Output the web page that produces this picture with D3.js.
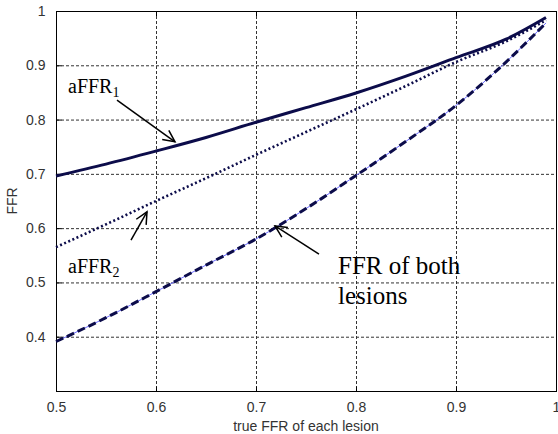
<!DOCTYPE html>
<html>
<head>
<meta charset="utf-8">
<script src="https://cdn.jsdelivr.net/npm/d3@7"></script>
<style>
  body { margin: 0; background: #fff; }
  svg { display: block; }
</style>
</head>
<body>
<div id="chart"></div>
<script>
// true FFR of each lesion
const xs = [0.5, 0.55, 0.6, 0.65, 0.7, 0.75, 0.8, 0.85, 0.9, 0.95, 0.99];
// apparent FFR of lesion 1 (solid)
const affr1 = [0.696, 0.718, 0.742, 0.767, 0.795, 0.822, 0.849, 0.880, 0.914, 0.948, 0.988];
// apparent FFR of lesion 2 (dotted)
const affr2 = [0.565, 0.607, 0.650, 0.692, 0.735, 0.777, 0.819, 0.862, 0.906, 0.944, 0.983];
// FFR of both lesions (dashed)
const ffrBoth = [0.391, 0.435, 0.483, 0.532, 0.580, 0.636, 0.697, 0.760, 0.826, 0.906, 0.978];

const xTicks = [0.5, 0.6, 0.7, 0.8, 0.9, 1];
const yTicks = [0.4, 0.5, 0.6, 0.7, 0.8, 0.9, 1];

const width = 558, height = 434;
const margin = { top: 11, right: 2, bottom: 43, left: 56 };

const x = d3.scaleLinear().domain([0.5, 1]).range([margin.left, width - margin.right]);
const y = d3.scaleLinear().domain([0.3, 1]).range([height - margin.bottom, margin.top]);

const svg = d3.select('#chart').append('svg')
    .attr('width', width)
    .attr('height', height);

const navy = '#0c0c4a';
const tickFont = '"Liberation Sans", Arial, sans-serif';
const serif = '"Liberation Serif", "Times New Roman", serif';

// grid
const grid = svg.append('g')
    .attr('stroke', '#333')
    .attr('stroke-width', 1)
    .attr('stroke-dasharray', '3,2');
grid.selectAll('.gx')
    .data(xTicks.slice(1, -1))
    .join('line')
    .attr('x1', d => x(d) + 0.5).attr('x2', d => x(d) + 0.5)
    .attr('y1', y(1)).attr('y2', y(0.3));
grid.selectAll('.gy')
    .data(yTicks.slice(0, -1))
    .join('line')
    .attr('y1', d => y(d) + 0.5).attr('y2', d => y(d) + 0.5)
    .attr('x1', x(0.5)).attr('x2', x(1));

// axes (ticks pointing inward, like matlab)
const xAxis = g => g
    .attr('transform', `translate(0,${y(0.3) + 0.5})`)
    .call(d3.axisBottom(x).tickValues(xTicks).tickFormat(d3.format('')).tickSizeInner(-5).tickSizeOuter(0).tickPadding(11))
    .call(g => g.select('.domain').remove());

const yAxis = g => g
    .attr('transform', `translate(${x(0.5) + 0.5},0)`)
    .call(d3.axisLeft(y).tickValues(yTicks).tickFormat(d3.format('')).tickSizeInner(-5).tickSizeOuter(0).tickPadding(11))
    .call(g => g.select('.domain').remove());

[xAxis, yAxis].forEach(ax => {
    svg.append('g')
        .call(ax)
        .call(g => g.selectAll('text')
            .attr('font-family', tickFont)
            .attr('font-size', 14)
            .attr('fill', '#333'))
        .call(g => g.selectAll('line').attr('stroke', '#000'));
});

// top ticks
svg.append('g')
    .selectAll('line')
    .data(xTicks)
    .join('line')
    .attr('x1', d => x(d) + 0.5).attr('x2', d => x(d) + 0.5)
    .attr('y1', y(1)).attr('y2', y(1) + 5)
    .attr('stroke', '#000');

// frame
svg.append('rect')
    .attr('x', x(0.5) + 0.5)
    .attr('y', y(1) + 0.5)
    .attr('width', x(1) - x(0.5))
    .attr('height', y(0.3) - y(1))
    .attr('fill', 'none')
    .attr('stroke', '#000');

// axis labels
svg.append('text')
    .attr('x', (x(0.5) + x(1)) / 2)
    .attr('y', height - 3)
    .attr('text-anchor', 'middle')
    .attr('font-family', tickFont)
    .attr('font-size', 14)
    .attr('fill', '#333')
    .text('true FFR of each lesion');

svg.append('text')
    .attr('transform', `translate(17,${(y(0.3) + y(1)) / 2}) rotate(-90)`)
    .attr('text-anchor', 'middle')
    .attr('font-family', tickFont)
    .attr('font-size', 14)
    .attr('fill', '#333')
    .text('FFR');

// curves
const line = series => d3.line()
    .x((d, i) => x(xs[i]))
    .y(d => y(d))
    .curve(d3.curveMonotoneX)(series);

svg.append('path')
    .attr('d', line(affr1))
    .attr('fill', 'none')
    .attr('stroke', navy)
    .attr('stroke-width', 3);

svg.append('path')
    .attr('d', line(affr2))
    .attr('fill', 'none')
    .attr('stroke', navy)
    .attr('stroke-width', 2.6)
    .attr('stroke-dasharray', '2,2.5');

svg.append('path')
    .attr('d', line(ffrBoth))
    .attr('fill', 'none')
    .attr('stroke', '#6a6aff')
    .attr('stroke-width', 1);

svg.append('path')
    .attr('d', line(ffrBoth))
    .attr('fill', 'none')
    .attr('stroke', navy)
    .attr('stroke-width', 3)
    .attr('stroke-dasharray', '8,4');

// annotations, positions in data units
const arrows = [
    { from: [0.561, 0.836], to: [0.619, 0.759] },
    { from: [0.575, 0.578], to: [0.591, 0.630] },
    { from: [0.763, 0.552], to: [0.719, 0.604] }
];

const ann = svg.append('g')
    .attr('stroke', '#000')
    .attr('stroke-width', 1.5)
    .attr('fill', 'none');

arrows.forEach(a => {
    const x1 = x(a.from[0]), y1 = y(a.from[1]);
    const x2 = x(a.to[0]), y2 = y(a.to[1]);
    const ang = Math.atan2(y2 - y1, x2 - x1);
    const len = 13, spread = 0.45;
    ann.append('line')
        .attr('x1', x1).attr('y1', y1)
        .attr('x2', x2).attr('y2', y2);
    ann.append('path')
        .attr('d', d3.line()([
            [x2 - len * Math.cos(ang - spread), y2 - len * Math.sin(ang - spread)],
            [x2, y2],
            [x2 - len * Math.cos(ang + spread), y2 - len * Math.sin(ang + spread)]
        ]));
});

const label = (pos, main, sub) => {
    const t = svg.append('text')
        .attr('x', x(pos[0]))
        .attr('y', y(pos[1]))
        .attr('font-family', serif)
        .attr('font-size', 20)
        .attr('fill', '#000');
    t.append('tspan').text(main);
    t.append('tspan')
        .attr('font-size', 14)
        .attr('dy', 4)
        .text(sub);
};
label([0.512, 0.849], 'aFFR', '1');
label([0.512, 0.517], 'aFFR', '2');

const both = svg.append('text')
    .attr('x', x(0.782))
    .attr('y', y(0.516))
    .attr('font-family', serif)
    .attr('font-size', 25)
    .attr('fill', '#000');
both.append('tspan').text('FFR of both');
both.append('tspan').attr('x', x(0.782)).attr('dy', 30).text('lesions');
</script>
</body>
</html>
